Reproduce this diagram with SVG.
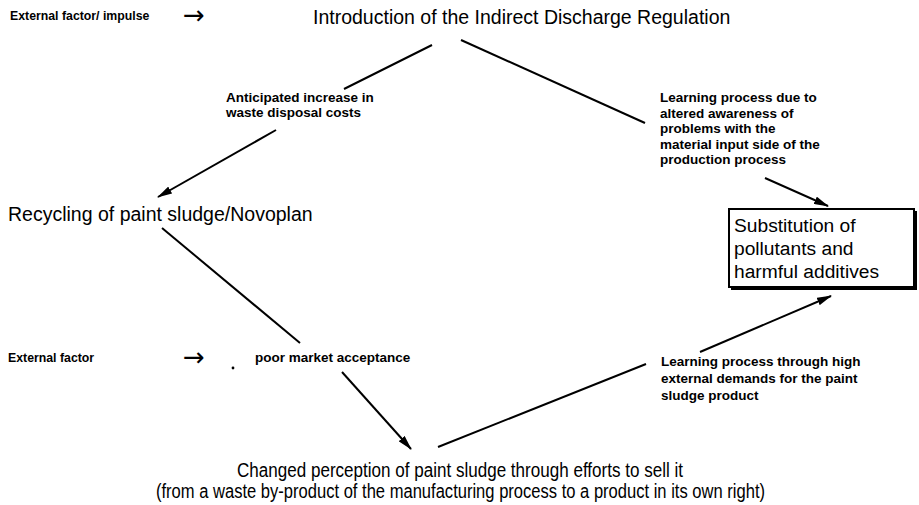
<svg xmlns="http://www.w3.org/2000/svg" width="919" height="505" viewBox="0 0 919 505">
  <defs>
    <marker id="head" viewBox="0 0 15 8" refX="14" refY="4" markerWidth="15" markerHeight="8" markerUnits="userSpaceOnUse" orient="auto">
      <path d="M0,0 L15,4 L0,8 Z" fill="#000"/>
    </marker>
    <style>
      .big { font-family: "Liberation Sans", Arial, sans-serif; font-size: 19.5px; fill: #000; }
      .box { font-family: "Liberation Sans", Arial, sans-serif; font-size: 19.2px; fill: #000; }
      .small { font-family: "Liberation Sans", Arial, sans-serif; font-size: 13.5px; font-weight: bold; fill: #000; }
      .ext { font-family: "Liberation Sans", Arial, sans-serif; font-size: 12.3px; font-weight: bold; fill: #000; }
      .sym { font-family: "DejaVu Sans", sans-serif; font-size: 26px; fill: #000; }
      .edge { stroke: #000; stroke-width: 2; fill: none; }
      .arrow { marker-end: url(#head); }
    </style>
  </defs>
  <rect width="919" height="505" fill="#fff"/>

  <!-- external influences -->
  <g id="impulse">
    <text class="ext" x="10" y="20">External factor/ impulse</text>
    <text class="sym" x="183" y="24">→</text>
  </g>
  <g id="external-factor">
    <text class="ext" x="8" y="362">External factor</text>
    <text class="sym" x="183" y="366">→</text>
    <circle cx="233" cy="368" r="1.4" fill="#000"/>
  </g>

  <!-- nodes -->
  <g id="regulation">
    <text class="big" x="313" y="24">Introduction of the Indirect Discharge Regulation</text>
  </g>
  <g id="recycling">
    <text class="big" x="8" y="221">Recycling of paint sludge/Novoplan</text>
  </g>
  <g id="substitution">
    <rect x="729" y="209" width="185" height="78" fill="#fff" stroke="#000" stroke-width="2"/>
    <path d="M731,288.5 H915.5 V211" fill="none" stroke="#000" stroke-width="3"/>
    <text class="box" x="734" y="232">Substitution of</text>
    <text class="box" x="734" y="255">pollutants and</text>
    <text class="box" x="734" y="278">harmful additives</text>
  </g>
  <g id="perception">
    <text class="big" x="237" y="477" textLength="446" lengthAdjust="spacingAndGlyphs">Changed perception of paint sludge through efforts to sell it</text>
    <text class="big" x="156" y="498" textLength="609" lengthAdjust="spacingAndGlyphs">(from a waste by-product of the manufacturing process to a product in its own right)</text>
  </g>

  <!-- connector labels -->
  <g id="label-costs">
    <text class="small" x="226" y="102">Anticipated increase in</text>
    <text class="small" x="226" y="117">waste disposal costs</text>
  </g>
  <g id="label-awareness">
    <text class="small" x="660" y="102">Learning process due to</text>
    <text class="small" x="660" y="117.5">altered awareness of</text>
    <text class="small" x="660" y="133">problems with the</text>
    <text class="small" x="660" y="148.5">material input side of the</text>
    <text class="small" x="660" y="164">production process</text>
  </g>
  <g id="label-market">
    <text class="small" x="255" y="362">poor market acceptance</text>
  </g>
  <g id="label-demands">
    <text class="small" x="661" y="366">Learning process through high</text>
    <text class="small" x="661" y="383">external demands for the paint</text>
    <text class="small" x="661" y="400">sludge product</text>
  </g>

  <!-- connectors -->
  <g id="connectors">
    <line class="edge" x1="432" y1="45" x2="344" y2="89"/>
    <line class="edge arrow" x1="276" y1="130" x2="158" y2="197"/>
    <line class="edge" x1="461" y1="40" x2="645" y2="123"/>
    <line class="edge arrow" x1="765" y1="178" x2="828" y2="206"/>
    <line class="edge" x1="162" y1="228" x2="300" y2="343"/>
    <line class="edge arrow" x1="342" y1="372" x2="411" y2="449"/>
    <line class="edge" x1="438" y1="447" x2="646" y2="364"/>
    <line class="edge arrow" x1="700" y1="352" x2="831" y2="296"/>
  </g>
</svg>
